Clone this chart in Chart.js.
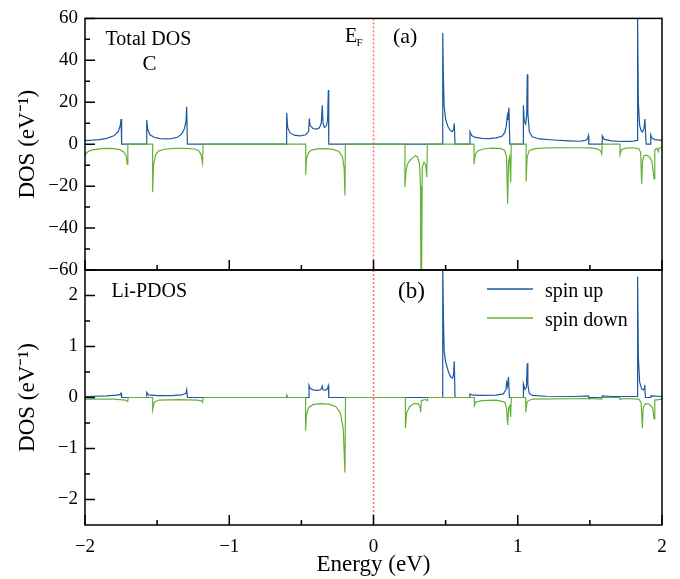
<!DOCTYPE html>
<html>
<head>
<meta charset="utf-8">
<script src="https://cdn.jsdelivr.net/npm/chart.js@4/dist/chart.umd.min.js"></script>
<style>
  body { margin: 0; background: #fff; }
  #wrap { position: relative; width: 680px; height: 579px; }
  #wrap canvas { position: absolute; left: 0; top: 0; }
</style>
</head>
<body>
<div id="wrap">
  <canvas id="chartA" width="680" height="579"></canvas>
  <canvas id="chartB" width="680" height="579"></canvas>
</div>
<script>
// tick values
var xTicks = [-2, -1, 0, 1, 2];
var xMinor = [-1.5, -0.5, 0.5, 1.5];
var yTicksA = [-60, -40, -20, 0, 20, 40, 60];
var yMinorA = [-50, -30, -10, 10, 30, 50];
var yTicksB = [-2, -1, 0, 1, 2];
var yMinorB = [-1.5, -0.5, 0.5, 1.5];

// (a) total DOS, [energy, DOS]
var totalUp = [
  [-2.00,1.7],[-1.95,1.9],[-1.90,2.2],[-1.85,2.8],[-1.80,4.0],[-1.77,6.0],[-1.755,9],[-1.75,12],[-1.746,0],
  [-1.572,0],[-1.572,11.5],[-1.565,7],[-1.55,4.5],[-1.52,3.3],[-1.48,2.7],[-1.44,2.5],[-1.40,2.7],[-1.36,3.3],[-1.33,4.8],[-1.31,7.5],[-1.30,11],[-1.295,17.8],[-1.29,0],
  [-0.602,0],[-0.602,15],[-0.595,8],[-0.58,5.5],[-0.55,4.3],[-0.51,4.0],[-0.47,4.5],[-0.45,6],[-0.445,12.2],[-0.44,9],[-0.42,7.5],[-0.395,7.2],[-0.375,7.8],[-0.362,10],[-0.355,18.6],[-0.35,10],[-0.34,8],[-0.325,9],[-0.318,12],[-0.313,25.8],[-0.31,0],
  [0.48,0],[0.48,53],[0.485,30],[0.49,18],[0.50,12],[0.515,8.5],[0.53,6.8],[0.545,6],[0.555,7],[0.56,10],[0.565,0],
  [0.669,0],[0.669,6],[0.68,4.2],[0.70,3.4],[0.75,2.8],[0.80,2.7],[0.85,3.0],[0.89,3.8],[0.91,5.5],[0.92,8.5],[0.928,13.5],[0.932,11.5],[0.939,17.5],[0.945,0],
  [1.039,0],[1.039,18.6],[1.045,11],[1.055,9.6],[1.062,14],[1.066,33.3],[1.07,15],[1.08,6],[1.10,3.5],[1.15,2.5],[1.25,2.0],[1.35,1.6],[1.43,1.4],[1.47,1.8],[1.485,2.8],[1.489,4.0],[1.493,0],
  [1.586,0],[1.586,4.0],[1.60,2.3],[1.65,1.6],[1.72,1.3],[1.79,1.3],[1.829,1.8],[1.831,60],[1.836,20],[1.845,9],[1.855,6.5],[1.865,5.8],[1.875,7.5],[1.882,12],[1.886,5],[1.89,0],
  [1.922,0],[1.922,4.4],[1.93,3],[1.95,2.2],[2.00,1.8]
];
var totalDown = [
  [-2.00,-5.1],[-1.98,-3.6],[-1.95,-2.7],[-1.90,-2.2],[-1.85,-2.0],[-1.80,-2.1],[-1.76,-2.6],[-1.73,-3.8],[-1.715,-5.5],[-1.707,-9.5],[-1.703,0],
  [-1.531,0],[-1.531,-22.9],[-1.525,-10],[-1.51,-5],[-1.49,-3.3],[-1.45,-2.4],[-1.38,-2.0],[-1.30,-2.0],[-1.24,-2.3],[-1.21,-3.2],[-1.195,-5],[-1.185,-9],[-1.181,0],
  [-0.470,0],[-0.470,-14.6],[-0.465,-7],[-0.45,-4],[-0.43,-2.8],[-0.39,-2.2],[-0.33,-2.1],[-0.28,-2.5],[-0.24,-3.5],[-0.215,-6],[-0.203,-12],[-0.198,-24.4],[-0.195,0],
  [0.218,0],[0.218,-20.5],[0.225,-13],[0.235,-9.5],[0.25,-8],[0.27,-6.5],[0.29,-5.5],[0.305,-6],[0.318,-9],[0.326,-20],[0.329,-70],[0.333,-70],[0.338,-11],[0.35,-8.6],[0.362,-10],[0.369,-15.7],[0.374,0],
  [0.697,0],[0.697,-9.4],[0.705,-5],[0.72,-3.3],[0.76,-2.3],[0.82,-1.9],[0.88,-2.0],[0.91,-3],[0.922,-6],[0.930,-28.4],[0.936,-8],[0.944,-6],[0.951,-18.1],[0.955,0],
  [1.058,0],[1.058,-17.8],[1.065,-6],[1.08,-3],[1.12,-2.1],[1.20,-1.8],[1.40,-1.7],[1.50,-1.8],[1.55,-2.2],[1.575,-3.2],[1.582,-4.6],[1.586,0],
  [1.709,0],[1.709,-5.0],[1.72,-2.5],[1.75,-1.9],[1.80,-1.7],[1.84,-2.2],[1.852,-4],[1.859,-18.9],[1.865,-8],[1.875,-5.5],[1.89,-5.2],[1.91,-5.8],[1.93,-8],[1.945,-16.5],[1.95,-3],[1.96,-2.0],[1.97,-2.5],[1.975,-3.5],[1.98,-1.8],[2.00,-1.6]
];

// (b) Li projected DOS, [energy, DOS]
var liUp = [
  [-2.00,0.02],[-1.85,0.03],[-1.78,0.045],[-1.755,0.06],[-1.75,0.085],[-1.746,0],
  [-1.572,0],[-1.572,0.10],[-1.56,0.05],[-1.50,0.035],[-1.40,0.035],[-1.33,0.05],[-1.30,0.08],[-1.295,0.15],[-1.29,0],
  [-0.602,0],[-0.600,0.03],[-0.596,0],
  [-0.447,0],[-0.447,0.235],[-0.44,0.18],[-0.42,0.15],[-0.39,0.14],[-0.37,0.15],[-0.36,0.18],[-0.355,0.22],[-0.35,0.15],[-0.335,0.14],[-0.32,0.17],[-0.313,0.23],[-0.31,0],
  [0.48,0],[0.48,2.6],[0.485,1.5],[0.49,0.9],[0.50,0.7],[0.52,0.5],[0.535,0.4],[0.548,0.38],[0.555,0.45],[0.56,0.71],[0.565,0],
  [0.668,0],[0.668,0.065],[0.69,0.045],[0.75,0.04],[0.85,0.045],[0.90,0.07],[0.918,0.15],[0.923,0.29],[0.928,0.22],[0.936,0.40],[0.942,0],
  [1.039,0],[1.039,0.27],[1.05,0.16],[1.06,0.2],[1.066,0.67],[1.07,0.25],[1.08,0.08],[1.10,0.04],[1.20,0.025],[1.40,0.02],[1.489,0.03],[1.493,0],
  [1.586,0],[1.586,0.03],[1.65,0.02],[1.829,0.02],[1.831,2.37],[1.836,0.8],[1.845,0.3],[1.86,0.16],[1.872,0.15],[1.876,0.18],[1.88,0.25],[1.885,0],
  [1.922,0],[1.922,0.03],[2.00,0.02]
];
var liDown = [
  [-2.00,-0.03],[-1.80,-0.03],[-1.72,-0.05],[-1.704,-0.08],[-1.70,0],
  [-1.531,0],[-1.531,-0.24],[-1.52,-0.09],[-1.49,-0.05],[-1.35,-0.04],[-1.22,-0.05],[-1.19,-0.07],[-1.185,-0.09],[-1.18,0],
  [-0.471,0],[-0.471,-0.65],[-0.465,-0.35],[-0.45,-0.2],[-0.42,-0.14],[-0.37,-0.12],[-0.31,-0.13],[-0.26,-0.18],[-0.23,-0.3],[-0.21,-0.6],[-0.198,-1.47],[-0.194,0],
  [0.221,0],[0.221,-0.60],[0.23,-0.3],[0.25,-0.18],[0.28,-0.12],[0.31,-0.12],[0.322,-0.18],[0.327,-0.29],[0.332,-0.06],[0.36,-0.04],[0.372,-0.06],[0.375,0],
  [0.699,0],[0.699,-0.16],[0.71,-0.09],[0.75,-0.06],[0.85,-0.05],[0.91,-0.09],[0.922,-0.2],[0.930,-0.54],[0.937,-0.2],[0.945,-0.16],[0.951,-0.38],[0.955,0],
  [1.055,0],[1.055,-0.29],[1.065,-0.08],[1.10,-0.03],[1.50,-0.02],[1.582,-0.03],[1.586,0],
  [1.709,0],[1.709,-0.04],[1.73,-0.02],[1.84,-0.03],[1.855,-0.1],[1.864,-0.60],[1.87,-0.2],[1.885,-0.12],[1.91,-0.13],[1.935,-0.2],[1.945,-0.42],[1.95,-0.05],[2.00,-0.03]
];

var SERIF = '"Liberation Serif", "Times New Roman", serif';
var BLUE = '#1b5a9d';
var GREEN = '#67b036';

function minus(v) { return String(v).replace('-', '\u2212'); }

// frame, inner ticks, Fermi level line, text labels
var panelDecor = {
  id: 'panelDecor',
  beforeDatasetsDraw: function(chart) {
    var ctx = chart.ctx, a = chart.chartArea;
    var x0 = chart.scales.x.getPixelForValue(0);
    ctx.save();
    ctx.strokeStyle = '#f27a5e';
    ctx.lineWidth = 1.6;
    ctx.setLineDash([2, 2]);
    ctx.beginPath();
    ctx.moveTo(x0, a.top);
    ctx.lineTo(x0, a.bottom);
    ctx.stroke();
    ctx.restore();
  },
  afterDatasetsDraw: function(chart, args, opts) {
    var ctx = chart.ctx, a = chart.chartArea;
    var xs = chart.scales.x, ys = chart.scales.y;
    ctx.save();
    ctx.strokeStyle = '#000';
    ctx.lineWidth = 1.5;
    ctx.beginPath();
    xTicks.forEach(function(v) { var p = xs.getPixelForValue(v); ctx.moveTo(p, a.bottom); ctx.lineTo(p, a.bottom - 10); });
    xMinor.forEach(function(v) { var p = xs.getPixelForValue(v); ctx.moveTo(p, a.bottom); ctx.lineTo(p, a.bottom - 5); });
    opts.yMajor.forEach(function(v) { var p = ys.getPixelForValue(v); ctx.moveTo(a.left, p); ctx.lineTo(a.left + 10, p); });
    opts.yMinor.forEach(function(v) { var p = ys.getPixelForValue(v); ctx.moveTo(a.left, p); ctx.lineTo(a.left + 5, p); });
    ctx.stroke();
    ctx.strokeRect(a.left, a.top, a.width, a.height);

    ctx.fillStyle = '#000';
    ctx.textBaseline = 'alphabetic';
    ctx.textAlign = 'left';
    opts.notes.forEach(function(n) {
      ctx.font = n.size + 'px ' + SERIF;
      ctx.fillText(n.text, n.x, n.y);
    });

    if (opts.legend) {
      chart.data.datasets.forEach(function(ds, i) {
        var y = 289 + i * 29;
        ctx.strokeStyle = ds.borderColor;
        ctx.lineWidth = 1.5;
        ctx.beginPath();
        ctx.moveTo(487, y);
        ctx.lineTo(533, y);
        ctx.stroke();
        ctx.font = '20px ' + SERIF;
        ctx.fillText(ds.label, 545, y + 7.5);
      });
    }
    ctx.restore();
  }
};

function makeChart(id, up, down, yMin, yMax, yMajor, yMinor, top, xHeight, showX, notes, legend) {
  return new Chart(document.getElementById(id), {
    type: 'scatter',
    data: {
      datasets: [{
        label: 'spin up',
        data: up,
        borderColor: BLUE,
        order: 1
      }, {
        label: 'spin down',
        data: down,
        borderColor: GREEN,
        order: 0
      }]
    },
    options: {
      responsive: false,
      animation: false,
      devicePixelRatio: 1,
      showLine: true,
      layout: { padding: { left: 0, right: 18, top: top, bottom: 0 } },
      elements: {
        point: { radius: 0 },
        line: { borderWidth: 1.2, tension: 0 }
      },
      plugins: {
        legend: { display: false },
        tooltip: { enabled: false },
        panelDecor: { yMajor: yMajor, yMinor: yMinor, notes: notes, legend: legend }
      },
      scales: {
        x: {
          type: 'linear',
          min: -2,
          max: 2,
          afterBuildTicks: function(s) { s.ticks = xTicks.map(function(v) { return { value: v }; }); },
          afterFit: function(s) { s.height = xHeight; },
          grid: { display: false, drawTicks: false },
          border: { display: false },
          ticks: {
            display: showX,
            padding: 11,
            color: '#000',
            font: { family: SERIF, size: 19 },
            callback: minus
          },
          title: {
            display: showX,
            text: 'Energy (eV)',
            color: '#000',
            font: { family: SERIF, size: 23 },
            padding: { top: 0, bottom: 0 }
          }
        },
        y: {
          min: yMin,
          max: yMax,
          afterBuildTicks: function(s) { s.ticks = yMajor.map(function(v) { return { value: v }; }); },
          afterFit: function(s) { s.width = 85; },
          grid: { display: false, drawTicks: false },
          border: { display: false },
          ticks: {
            padding: 7,
            color: '#000',
            font: { family: SERIF, size: 19 },
            callback: minus
          },
          title: {
            display: true,
            text: 'DOS (eV\u207B\u00B9)',
            color: '#000',
            font: { family: SERIF, size: 23 },
            padding: { top: 14, bottom: 0 }
          }
        }
      }
    },
    plugins: [panelDecor]
  });
}

makeChart('chartA', totalUp, totalDown, -60, 60, yTicksA, yMinorA, 17, 309, false, [
  { text: 'Total DOS', x: 105.5, y: 45, size: 20 },
  { text: 'C', x: 142.5, y: 70, size: 21 },
  { text: 'E', x: 345, y: 42, size: 20 },
  { text: 'F', x: 356.5, y: 45.5, size: 11 },
  { text: '(a)', x: 393, y: 43, size: 22 }
], false);

makeChart('chartB', liUp, liDown, -2.5, 2.5, yTicksB, yMinorB, 270, 54, true, [
  { text: 'Li-PDOS', x: 111.5, y: 297, size: 20 },
  { text: '(b)', x: 398, y: 297.5, size: 23 }
], true);
</script>
</body>
</html>
